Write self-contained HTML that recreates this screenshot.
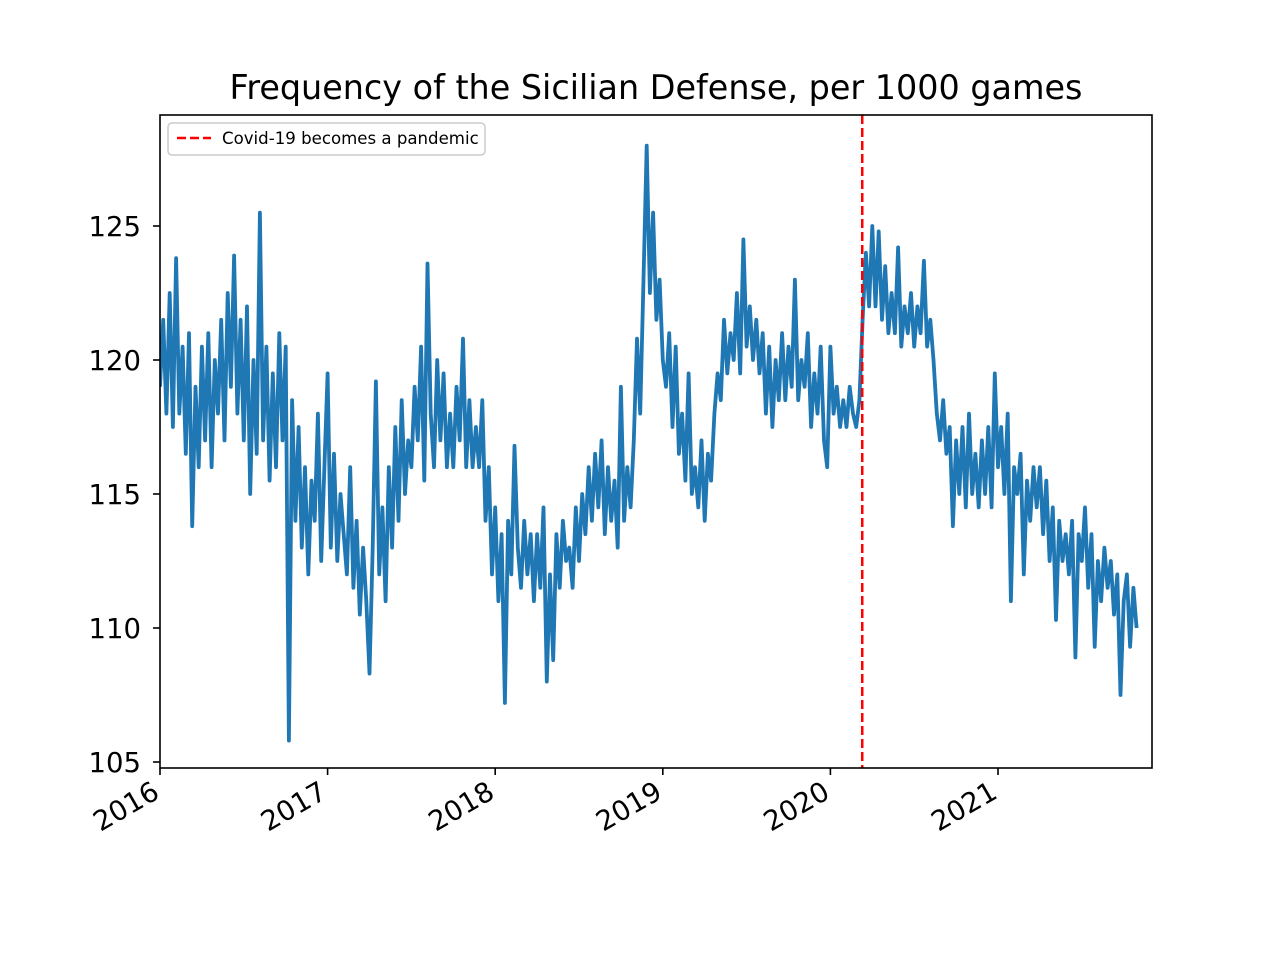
<!DOCTYPE html>
<html><head><meta charset="utf-8"><style>
html,body{margin:0;padding:0;background:#fff;}
svg{display:block;font-family:"DejaVu Sans","Liberation Sans",sans-serif;}
</style></head><body>
<svg id="chart" width="1280" height="960" viewBox="0 0 1280 960">
<rect width="1280" height="960" fill="#fff"/>
<text x="656" y="99" font-size="33.4" text-anchor="middle" fill="#000">Frequency of the Sicilian Defense, per 1000 games</text>
<g id="yaxis"></g>
<g id="xaxis"></g>
<clipPath id="clip"><rect x="160" y="115" width="992" height="653"/></clipPath>
<g clip-path="url(#clip)"><path id="series" fill="none" stroke="#1f77b4" stroke-width="3.8" stroke-linejoin="round"/></g>
<line id="covid" stroke="red" stroke-width="2.5" stroke-dasharray="9,4"/>
<rect x="160" y="115" width="992" height="653" fill="none" stroke="#000" stroke-width="1.6"/>
<g>
<rect x="168" y="123" width="317" height="32" rx="4" fill="#fff" fill-opacity="0.8" stroke="#ccc" stroke-width="1.5"/>
<line x1="177" y1="138" x2="211" y2="138" stroke="red" stroke-width="2.5" stroke-dasharray="9,4"/>
<text x="222" y="144" font-size="16.6" fill="#000">Covid-19 becomes a pandemic</text>
</g>
</svg>
<script>
const startYear = 2016.0;
const stepYears = 1/52;
const values = [
119,121.5,118,122.5,117.5,123.8,118,120.5,116.5,121,113.8,119,116,
120.5,117,121,116,120,118,121.5,117,122.5,119,123.9,118,121.5,
117,122,115,120,116.5,125.5,117,120.5,115.5,119.5,116,121,117,
120.5,105.8,118.5,114,117.5,113,116,112,115.5,114,118,112.5,116,
119.5,113,116.5,112.5,115,113.5,112,116,111.5,114,110.5,113,111,
108.3,113,119.2,112,114.5,111,116,113,117.5,114,118.5,115,117,
116,119,117,120.5,115.5,123.6,118,116,120,117,119.5,116,118,
116,119,117,120.8,116,118.5,116,117.5,116,118.5,114,116,112,
114.5,111,113.5,107.2,114,112,116.8,113,111.5,114,112,113.5,111,
113.5,111.5,114.5,108,112,108.8,113.5,111.5,114,112.5,113,111.5,114.5,
112.5,115,113.5,116,114,116.5,114.5,117,113.5,116,114,115.5,113,
119,114,116,114.5,117,120.8,118,123,128,122.5,125.5,121.5,123,
120,119,121,117.5,120.5,116.5,118,115.5,119.5,115,116,114.5,117,
114,116.5,115.5,118,119.5,118.5,121.5,119.5,121,120,122.5,119.5,124.5,
120.5,122,120,121.5,119.5,121,118,120.5,117.5,120,118.5,121,118.5,
120.5,119,123,118.5,120,119,121,117.5,119.5,118,120.5,117,116,
120.5,118,119,117.5,118.5,117.5,119,118,117.5,118.5,121.5,124,122,
125,122,124.8,121.5,123.5,121,122.5,121,124.2,120.5,122,121,122.5,
120.5,122,121,123.7,120.5,121.5,120,118,117,118.5,116.5,117.5,113.8,
117,115,117.5,114.5,118,115,116.5,114.5,117,115,117.5,114.5,119.5,
116,117.5,115,118,111,116,115,116.5,112,115.5,114,116,114.5,
116,113.5,115.5,112.5,114.5,110.3,114,112.5,113.5,112,114,108.9,113.5,
112.5,114.5,111.5,113.5,109.3,112.5,111,113,111.5,112.5,110.5,112,107.5,
111,112,109.3,111.5,110
];
const yTicks = [105,110,115,120,125];
const xTicks = [2016,2017,2018,2019,2020,2021];
const covidYear = 2020.19;

const NS = "http://www.w3.org/2000/svg";
function xs(t){return 160 + (t-2016)*167.6;}
function ys(v){return 360 - (v-120)*26.8;}

const d = values.map((v,i)=>(i?'L':'M')+xs(startYear+i*stepYears).toFixed(1)+','+ys(v).toFixed(1)).join('');
document.getElementById('series').setAttribute('d', d);

const cv = document.getElementById('covid');
cv.setAttribute('x1', xs(covidYear)); cv.setAttribute('x2', xs(covidYear));
cv.setAttribute('y1', 115); cv.setAttribute('y2', 768);

const ya = document.getElementById('yaxis');
yTicks.forEach(v=>{
  const l = document.createElementNS(NS,'line');
  l.setAttribute('x1',153); l.setAttribute('x2',160);
  l.setAttribute('y1',ys(v)); l.setAttribute('y2',ys(v));
  l.setAttribute('stroke','#000'); l.setAttribute('stroke-width','1.6');
  
  
  ya.appendChild(l);
  const t = document.createElementNS(NS,'text');
  t.setAttribute('x',141); t.setAttribute('y',ys(v)+10);
  t.setAttribute('font-size','27.5'); t.setAttribute('text-anchor','end');
  t.textContent = v;
  
  
  ya.appendChild(t);
});
const xa = document.getElementById('xaxis');
xTicks.forEach(v=>{
  const x = xs(v);
  const l = document.createElementNS(NS,'line');
  l.setAttribute('x1',x); l.setAttribute('x2',x);
  l.setAttribute('y1',768); l.setAttribute('y2',775);
  l.setAttribute('stroke','#000'); l.setAttribute('stroke-width','1.6');
  
  
  xa.appendChild(l);
  const t = document.createElementNS(NS,'text');
  t.setAttribute('font-size','27.5'); t.setAttribute('text-anchor','end');
  t.setAttribute('transform','translate('+(x+1)+',797) rotate(-30)');
  t.textContent = v;
  
  
  xa.appendChild(t);
});
</script>
</body></html>
